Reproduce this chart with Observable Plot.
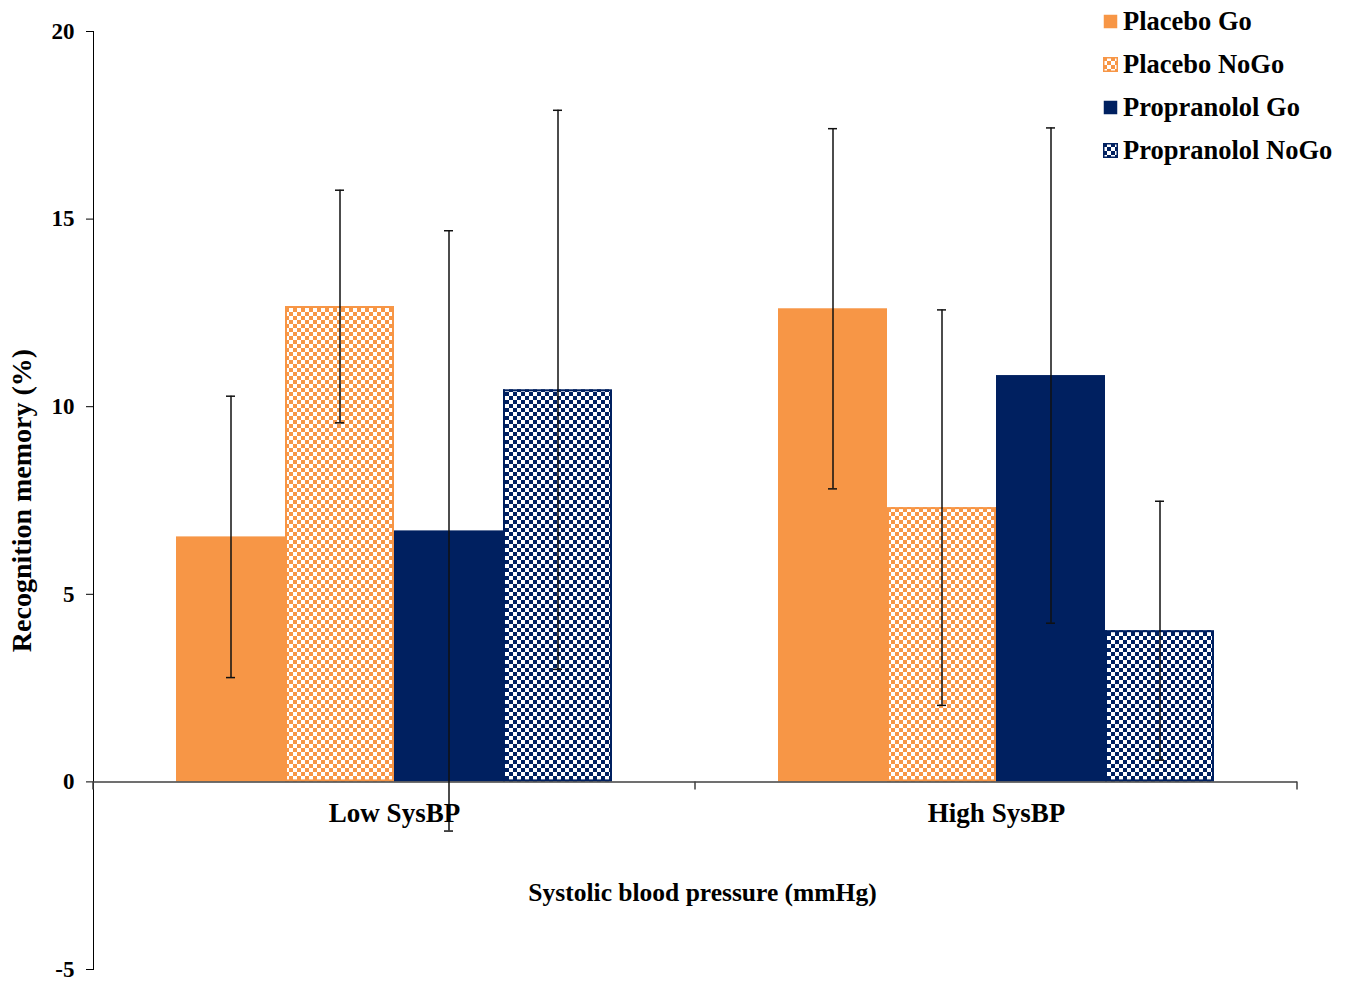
<!DOCTYPE html>
<html>
<head>
<meta charset="utf-8">
<script src="https://cdn.jsdelivr.net/npm/d3@7"></script>
<script src="https://cdn.jsdelivr.net/npm/@observablehq/plot@0.6"></script>
<style>
  html, body { margin: 0; padding: 0; background: #fff; }
  #wrap { position: relative; width: 1350px; height: 982px; font-family: 'Liberation Serif', 'Times New Roman', serif; font-weight: bold; color: #000; }
  #legend { position: absolute; left: 1103px; top: 0px; }
  .item { display: flex; align-items: center; height: 43px; font-size: 26.5px; line-height: 1; white-space: nowrap; }
  .sw { width: 15px; height: 15px; margin-right: 5px; display: block; }
  #chart svg [aria-label="y-axis tick label"] text { font-size: 23px; }
  #chart svg [aria-label="y-axis label"] text { font-size: 28px; }
</style>
</head>
<body>
<svg width="0" height="0" style="position:absolute">
  <defs>
    <pattern id="chkOrange" width="8" height="8" patternUnits="userSpaceOnUse">
      <rect width="8" height="8" fill="#fff"/>
      <rect x="0" y="0" width="4" height="4" fill="#F79646"/>
      <rect x="4" y="4" width="4" height="4" fill="#F79646"/>
    </pattern>
    <pattern id="chkNavy" width="8" height="8" patternUnits="userSpaceOnUse">
      <rect width="8" height="8" fill="#fff"/>
      <rect x="0" y="0" width="4" height="4" fill="#002060"/>
      <rect x="4" y="4" width="4" height="4" fill="#002060"/>
    </pattern>
  </defs>
</svg>
<div id="wrap">
  <div id="chart"></div>
  <div id="legend"></div>
</div>
<script>
// ---- data ----
const groups = ["Low SysBP", "High SysBP"];
const series = ["Placebo Go", "Placebo NoGo", "Propranolol Go", "Propranolol NoGo"];
const lowMeans = [6.53, 12.67, 6.69, 10.45];
const lowErrors = [3.75, 3.1, 8.0, 7.45];
const highMeans = [12.61, 7.31, 10.83, 4.03];
const highErrors = [4.8, 5.27, 6.6, 3.45];
const yTicks = [-5, 0, 5, 10, 15, 20];
const xTitle = "Systolic blood pressure (mmHg)";
const yTitle = "Recognition memory (%)";

// ---- table ----
const rows = [];
groups.forEach((g, gi) => {
  const m = gi === 0 ? lowMeans : highMeans;
  const e = gi === 0 ? lowErrors : highErrors;
  series.forEach((s, si) => rows.push({group: g, series: s, mean: m[si], lo: m[si] - e[si], hi: m[si] + e[si]}));
});

const ORANGE = "#F79646", NAVY = "#002060";
const fills = [ORANGE, "url(#chkOrange)", NAVY, "url(#chkNavy)"];
const font = "'Liberation Serif', 'Times New Roman', serif";

const plot = Plot.plot({
  width: 1350,
  height: 982,
  marginLeft: 92,
  marginRight: 53,
  marginTop: 31,
  marginBottom: 13,
  style: {fontFamily: font, fontWeight: "bold", color: "#000", background: "transparent", overflow: "visible"},
  fx: {domain: groups, padding: 0, axis: null},
  x: {domain: series, paddingInner: 0, paddingOuter: 0.747, axis: null},
  y: {
    domain: [-5, 20], ticks: yTicks, tickFormat: d => String(d), tickSize: 7, tickPadding: 12,
    line: true, label: yTitle, labelAnchor: "center", labelArrow: "none", labelOffset: 82
  },
  color: {domain: series, range: fills},
  marks: [
    Plot.barY(rows, {fx: "group", x: "series", y: "mean", fill: "series"}),
    Plot.barY(rows.filter(d => d.series === "Placebo NoGo"), {fx: "group", x: "series", y: "mean", fill: "none", stroke: ORANGE, strokeWidth: 2, inset: 1}),
    Plot.barY(rows.filter(d => d.series === "Propranolol NoGo"), {fx: "group", x: "series", y: "mean", fill: "none", stroke: NAVY, strokeWidth: 2, inset: 1}),
    Plot.ruleY([0], {stroke: "#404040", strokeWidth: 1.5}),
    Plot.ruleX(rows, {fx: "group", x: "series", y1: "lo", y2: "hi", stroke: "#111", strokeWidth: 1.5}),
    Plot.tickY(rows, {fx: "group", x: "series", y: "hi", insetLeft: 50, insetRight: 50, stroke: "#111", strokeWidth: 1.5}),
    Plot.tickY(rows, {fx: "group", x: "series", y: "lo", insetLeft: 50, insetRight: 50, stroke: "#111", strokeWidth: 1.5}),
    Plot.text(groups, {fx: d => d, y: () => 0, text: d => d, dy: 31, fontSize: 27, fontWeight: "bold", fill: "#000"})
  ]
});

document.getElementById("chart").appendChild(plot);

// category boundary ticks on the zero line, and the x title
const fxS = plot.scale("fx"), yS = plot.scale("y");
const svg = d3.select(plot);
const y0 = yS.apply(0);
const edges = groups.map(g => fxS.apply(g)).concat([fxS.apply(groups[groups.length - 1]) + fxS.bandwidth]);
svg.append("g").selectAll("line").data(edges).join("line")
  .attr("x1", d => d).attr("x2", d => d)
  .attr("y1", y0).attr("y2", y0 + 8)
  .attr("stroke", "#404040").attr("stroke-width", 1.5);
const r = fxS.range;
svg.append("text")
  .attr("x", (r[0] + r[1]) / 2 + 8)
  .attr("y", y0 + 114)
  .attr("text-anchor", "middle")
  .attr("dominant-baseline", "middle")
  .attr("font-size", 25.5)
  .attr("font-weight", "bold")
  .attr("fill", "#000")
  .text(xTitle);

// legend
const legend = d3.select("#legend");
series.forEach((s, i) => {
  const item = legend.append("div").attr("class", "item");
  const sw = item.append("svg").attr("class", "sw").attr("width", 15).attr("height", 15);
  sw.append("rect").attr("x", 0.75).attr("y", 0.75).attr("width", 13.5).attr("height", 13.5)
    .attr("fill", fills[i])
    .attr("stroke", i % 2 === 1 ? (i < 2 ? ORANGE : NAVY) : "none")
    .attr("stroke-width", 1.5);
  item.append("span").text(s);
});
</script>
</body>
</html>
